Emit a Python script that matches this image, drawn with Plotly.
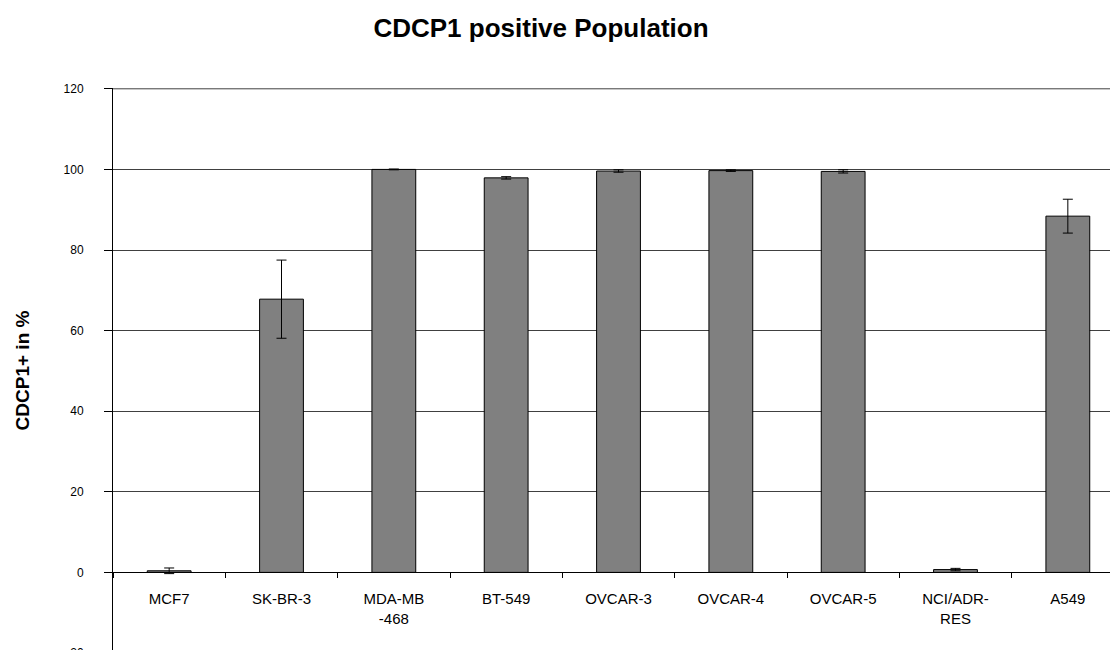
import plotly.graph_objects as go

categories = ["MCF7", "SK-BR-3", "MDA-MB<br>-468", "BT-549", "OVCAR-3",
              "OVCAR-4", "OVCAR-5", "NCI/ADR-<br>RES", "A549"]
values = [0.4, 67.8, 100.0, 97.9, 99.6, 99.7, 99.5, 0.7, 88.4]
errors = [0.7, 9.7, 0.1, 0.3, 0.3, 0.2, 0.4, 0.3, 4.2]
y_ticks = [-20, 0, 20, 40, 60, 80, 100, 120]

W, H = 1140, 720
fig = go.Figure()
fig.add_trace(go.Bar(
    x=categories, y=values, width=0.39,
    marker=dict(color="#808080", line=dict(color="#000000", width=1)),
    error_y=dict(type="data", array=errors, visible=True,
                 color="#000000", thickness=1, width=5),
))

# top gridline at the last tick (plotly skips the one on the plot edge)
fig.add_shape(type="line", xref="paper", x0=0, x1=1, yref="y",
              y0=y_ticks[-1], y1=y_ticks[-1],
              line=dict(color="#404040", width=1), layer="below")

fig.update_layout(
    width=W, height=H, autosize=False,
    margin=dict(l=113, r=16, t=88, b=67),
    paper_bgcolor="white", plot_bgcolor="white",
    font=dict(family="Arial, Liberation Sans, sans-serif", color="#000000"),
    showlegend=False,
    title=dict(text="<b>CDCP1 positive Population</b>",
               font=dict(size=26, color="#000000"),
               xref="container", x=541 / W, xanchor="center",
               yref="container", y=1 - 28 / H, yanchor="middle"),
    xaxis=dict(type="category", range=[-0.5, 8.5], anchor="free",
               position=20 / 140.2, showline=True, linecolor="#000000",
               linewidth=1, showgrid=False, ticks="outside",
               tickson="boundaries", ticklen=5, tickcolor="#000000",
               tickfont=dict(size=15), ticklabelstandoff=13),
    yaxis=dict(range=[-20, 120.2], tickvals=y_ticks, showline=True,
               linecolor="#000000", linewidth=1, ticks="outside", ticklen=8,
               tickcolor="#000000", showgrid=True, gridcolor="#404040",
               gridwidth=1, zeroline=False, tickfont=dict(size=12),
               ticklabelstandoff=18,
               title=dict(text="<b>CDCP1+ in %</b>", font=dict(size=19),
                          standoff=28)),
)

fig.write_html("out.html",
               config={"displayModeBar": False},
               post_script="document.documentElement.style.overflow='hidden';"
                           "document.body.style.overflow='hidden';"
                           "document.body.style.margin='0';")
